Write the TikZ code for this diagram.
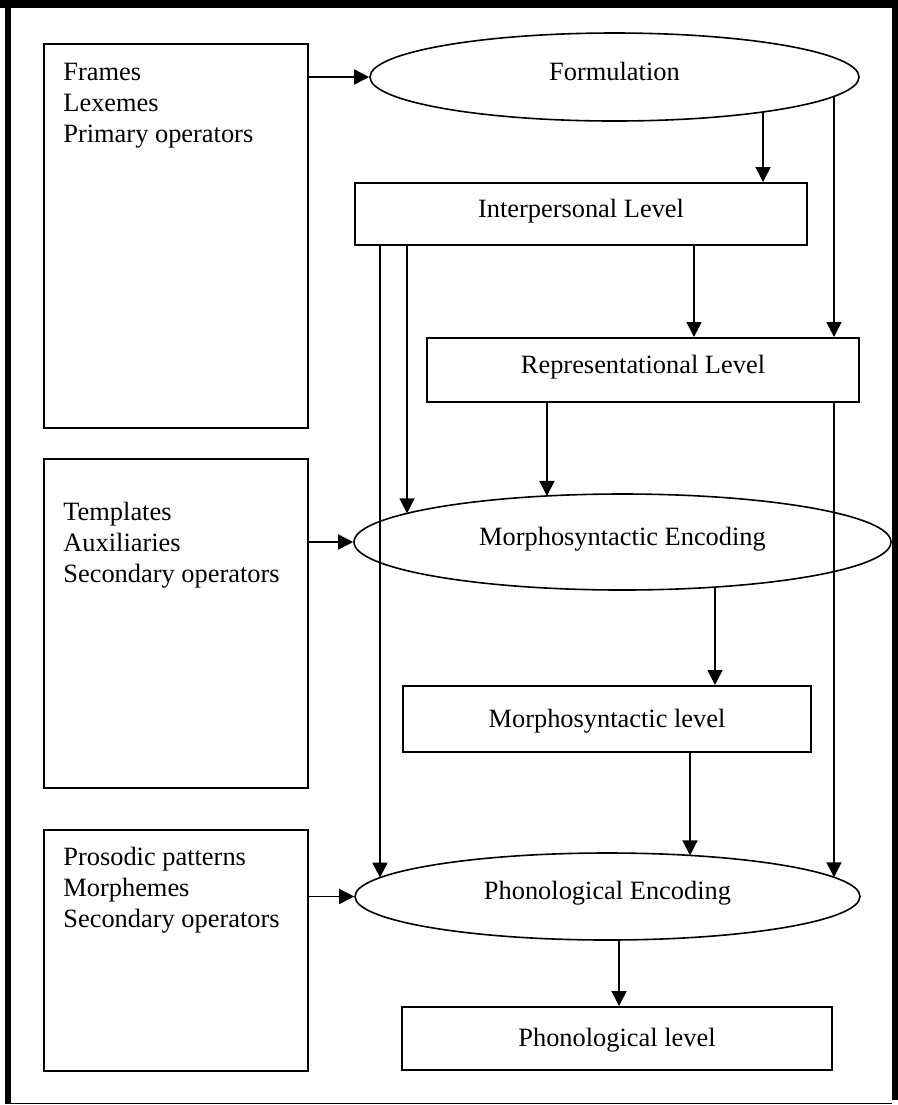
\documentclass[tikz,border=0pt]{standalone}
\usepackage{fontspec}
\setmainfont{Liberation Serif}
\usetikzlibrary{shapes.geometric,arrows.meta,intersections,calc}
\begin{document}
\begin{tikzpicture}[x=0.5pt,y=-0.5pt,
  every node/.style={font=\fontsize{13.2pt}{15.5pt}\selectfont},
  lexbox/.style={draw, line width=1pt, inner sep=0pt, anchor=north west, minimum width=132pt},
  listtext/.style={anchor=base west, inner sep=0pt},
  lvlbox/.style={draw, line width=1pt, inner sep=0pt, text height=8pt, text depth=5pt},
  enc/.style={draw, ellipse, line width=0.8pt, inner sep=0pt, text height=8pt, text depth=5pt},
  arr/.style={line width=0.8pt, -{Triangle[length=7.5pt,width=7.5pt]}},
]
\useasboundingbox (0,0) rectangle (898,1105);
% outer frame
\fill (0,0) rectangle (898,7.5);
\fill (5,0) rectangle (11,1104);
\fill (892,0) rectangle (898,1100);
\draw[line width=0.5pt] (5,1103.5) -- (892,1103.5);

% lexicon boxes
\node[lexbox, minimum height=192pt] (L1) at (43,43) {};
\node[listtext] (L1t) at (63,80) {\begin{minipage}[t]{150pt}Frames\\Lexemes\\Primary operators\end{minipage}};
\node[lexbox, minimum height=164.5pt] (L2) at (43,458) {};
\node[listtext] (L2t) at (63,520) {\begin{minipage}[t]{150pt}Templates\\Auxiliaries\\Secondary operators\end{minipage}};
\node[lexbox, minimum height=120.5pt] (L3) at (43,829) {};
\node[listtext] (L3t) at (63,865) {\begin{minipage}[t]{150pt}Prosodic patterns\\Morphemes\\Secondary operators\end{minipage}};

% encodings
\node[enc, name path=Fp, minimum width=244.5pt, minimum height=44pt] (F) at (614.5,77) {Formulation};
\node[enc, name path=Mp, minimum width=268.5pt, minimum height=48pt] (M) at (622.5,542) {Morphosyntactic Encoding};
\node[enc, name path=Pp, minimum width=252.5pt, minimum height=43.5pt] (P) at (607.5,896.5) {Phonological Encoding};

% levels
\node[lvlbox, minimum width=226pt, minimum height=31pt] (I) at (581,214) {Interpersonal Level};
\node[lvlbox, minimum width=216pt, minimum height=32pt] (R) at (643,370) {Representational Level};
\node[lvlbox, minimum width=204pt, minimum height=33pt, text height=10pt, text depth=2pt] (ML) at (607,719) {Morphosyntactic level};
\node[lvlbox, minimum width=215pt, minimum height=31.5pt, text height=10pt, text depth=2pt] (PL) at (617,1038.5) {Phonological level};

% x positions of vertical connectors
\coordinate (xa) at (763,0);
\coordinate (xb) at (834,0);
\coordinate (xc) at (694,0);
\coordinate (xd) at (407,0);
\coordinate (xe) at (380,0);
\coordinate (xf) at (547,0);
\coordinate (xg) at (715,0);
\coordinate (xh) at (690,0);
\coordinate (xi) at (619,0);

\path[name path=va] (xa |- F.center) -- (xa |- F.south);
\path[name path=vb] (xb |- F.center) -- (xb |- F.south);
\path[name path=vd] (xd |- M.north) -- (xd |- M.center);
\path[name path=ve] (xe |- P.north) -- (xe |- P.center);
\path[name path=vf] (xf |- M.north) -- (xf |- M.center);
\path[name path=vb2] (xb |- P.north) -- (xb |- P.center);
\path[name path=vg] (xg |- M.center) -- (xg |- M.south);
\path[name path=vh] (xh |- P.north) -- (xh |- P.center);
\path[name path=vi] (xi |- P.center) -- (xi |- P.south);

% connectors
\draw[arr] (L1.east |- F.west) -- (F.west);
\draw[arr] (L2.east |- M.west) -- (M.west);
\draw[arr] (L3.east |- P.west) -- (P.west);
\draw[arr, name intersections={of=Fp and va, by=fa}] (fa) -- (xa |- I.north);
\draw[arr, name intersections={of=Fp and vb, by=fb}] (fb) -- (xb |- R.north);
\draw[arr] (xc |- I.south) -- (xc |- R.north);
\draw[arr, name intersections={of=Mp and vd, by=md}] (xd |- I.south) -- (md);
\draw[arr, name intersections={of=Pp and ve, by=pe}] (xe |- I.south) -- (pe);
\draw[arr, name intersections={of=Mp and vf, by=mf}] (xf |- R.south) -- (mf);
\draw[arr, name intersections={of=Pp and vb2, by=pb}] (xb |- R.south) -- (pb);
\draw[arr, name intersections={of=Mp and vg, by=mg}] (mg) -- (xg |- ML.north);
\draw[arr, name intersections={of=Pp and vh, by=ph}] (xh |- ML.south) -- (ph);
\draw[arr, name intersections={of=Pp and vi, by=pi}] (pi) -- (xi |- PL.north);
\end{tikzpicture}
\end{document}
